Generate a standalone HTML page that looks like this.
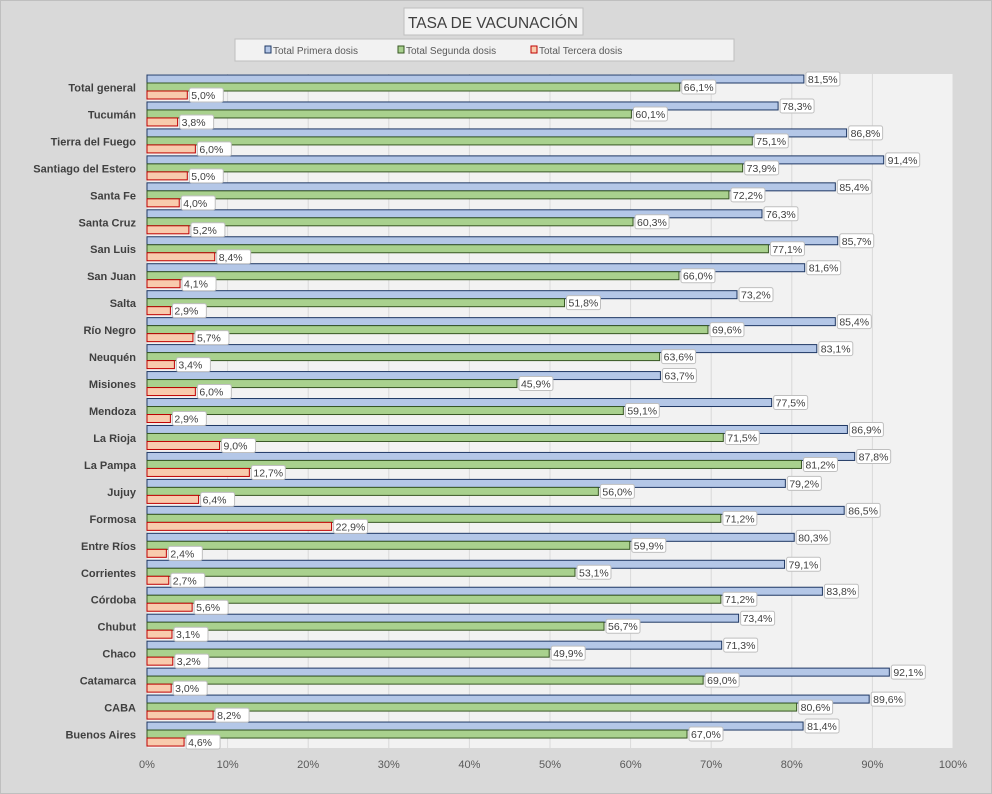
<!DOCTYPE html>
<html><head><meta charset="utf-8"><style>
body{margin:0;background:#d9d9d9;font-family:"Liberation Sans",sans-serif;}
svg{display:block}
</style></head><body>
<svg id="c" width="992" height="794">
<rect x="0.5" y="0.5" width="991" height="793" fill="#d9d9d9" stroke="#bfbfbf"/>
<rect x="404" y="8" width="179" height="27" fill="#f2f2f2" stroke="#bfbfbf"/>
<text x="493" y="28" font-size="16" text-anchor="middle" fill="#404040" textLength="170" lengthAdjust="spacingAndGlyphs">TASA DE VACUNACIÓN</text>
<rect x="235" y="39" width="499" height="22" fill="#f2f2f2" stroke="#bfbfbf"/>
<g font-size="10" fill="#595959">
<g><rect x="265" y="46" width="6" height="7" fill="#b4c7e7" stroke="#1f3864"/><text x="273" y="54">Total Primera dosis</text></g>
<g><rect x="398" y="46" width="6" height="7" fill="#a9d18e" stroke="#375623"/><text x="406" y="54">Total Segunda dosis</text></g>
<g><rect x="531" y="46" width="6" height="7" fill="#f8cbad" stroke="#c00000"/><text x="539" y="54">Total Tercera dosis</text></g>
</g>
<rect x="147" y="74" width="806" height="674" fill="#f2f2f2"/>
<g id="grid"></g><g id="bars"></g><g id="labels"></g>
</svg>
<script>
const categories=["Total general","Tucumán","Tierra del Fuego","Santiago del Estero","Santa Fe","Santa Cruz","San Luis","San Juan","Salta","Río Negro","Neuquén","Misiones","Mendoza","La Rioja","La Pampa","Jujuy","Formosa","Entre Ríos","Corrientes","Córdoba","Chubut","Chaco","Catamarca","CABA","Buenos Aires"];
const primera=[81.5,78.3,86.8,91.4,85.4,76.3,85.7,81.6,73.2,85.4,83.1,63.7,77.5,86.9,87.8,79.2,86.5,80.3,79.1,83.8,73.4,71.3,92.1,89.6,81.4];
const segunda=[66.1,60.1,75.1,73.9,72.2,60.3,77.1,66.0,51.8,69.6,63.6,45.9,59.1,71.5,81.2,56.0,71.2,59.9,53.1,71.2,56.7,49.9,69.0,80.6,67.0];
const tercera=[5.0,3.8,6.0,5.0,4.0,5.2,8.4,4.1,2.9,5.7,3.4,6.0,2.9,9.0,12.7,6.4,22.9,2.4,2.7,5.6,3.1,3.2,3.0,8.2,4.6];
const ticks=[0,10,20,30,40,50,60,70,80,90,100];
const NS="http://www.w3.org/2000/svg";
const x0=147,x1=953,plotTop=74,rowH=26.96;
const xs=v=>x0+(x1-x0)*v/100;
const ys=i=>plotTop+i*rowH;
function mk(t,a,p){const e=document.createElementNS(NS,t);for(const k in a)e.setAttribute(k,a[k]);p.appendChild(e);return e;}
const g=document.getElementById('grid'),b=document.getElementById('bars'),l=document.getElementById('labels');
ticks.forEach(t=>{
 const ln=mk('line',{x1:xs(t),x2:xs(t),y1:plotTop,y2:748,stroke:'#d9d9d9'},g);
 
 
 const tx=mk('text',{x:xs(t),y:768,'font-size':11,'text-anchor':'middle',fill:'#595959'},g);
 tx.textContent=t+'%';
 
 
});
const series=[[primera,'#b4c7e7','#1f3864','primera'],[segunda,'#a9d18e','#375623','segunda'],[tercera,'#f8cbad','#c00000','tercera']];
categories.forEach((c,i)=>{
 const y=ys(i);
 const ct=mk('text',{x:136,y:y+rowH/2+4,'font-size':11,'font-weight':'bold','text-anchor':'end',fill:'#404040'},l);
 ct.textContent=c;
 
 
 series.forEach((s,j)=>{
  const v=s[0][i],by=y+1+j*8;
  const r=mk('rect',{x:x0,y:by,width:xs(v)-x0,height:8,fill:s[1],stroke:s[2],'stroke-width':1},b);
  
  
  const txt=v.toFixed(1).replace('.',',')+'%';
  const lx=xs(v)+2;
  const bx=mk('rect',{x:lx,y:by-3,width:34,height:14,rx:2,fill:'#fff',stroke:'#bfbfbf'},l);
  
  
  const t=mk('text',{x:lx+2,y:by+8,'font-size':10.5,fill:'#404040'},l);
  t.textContent=txt;
  
  
 });
});
</script>
</body></html>
